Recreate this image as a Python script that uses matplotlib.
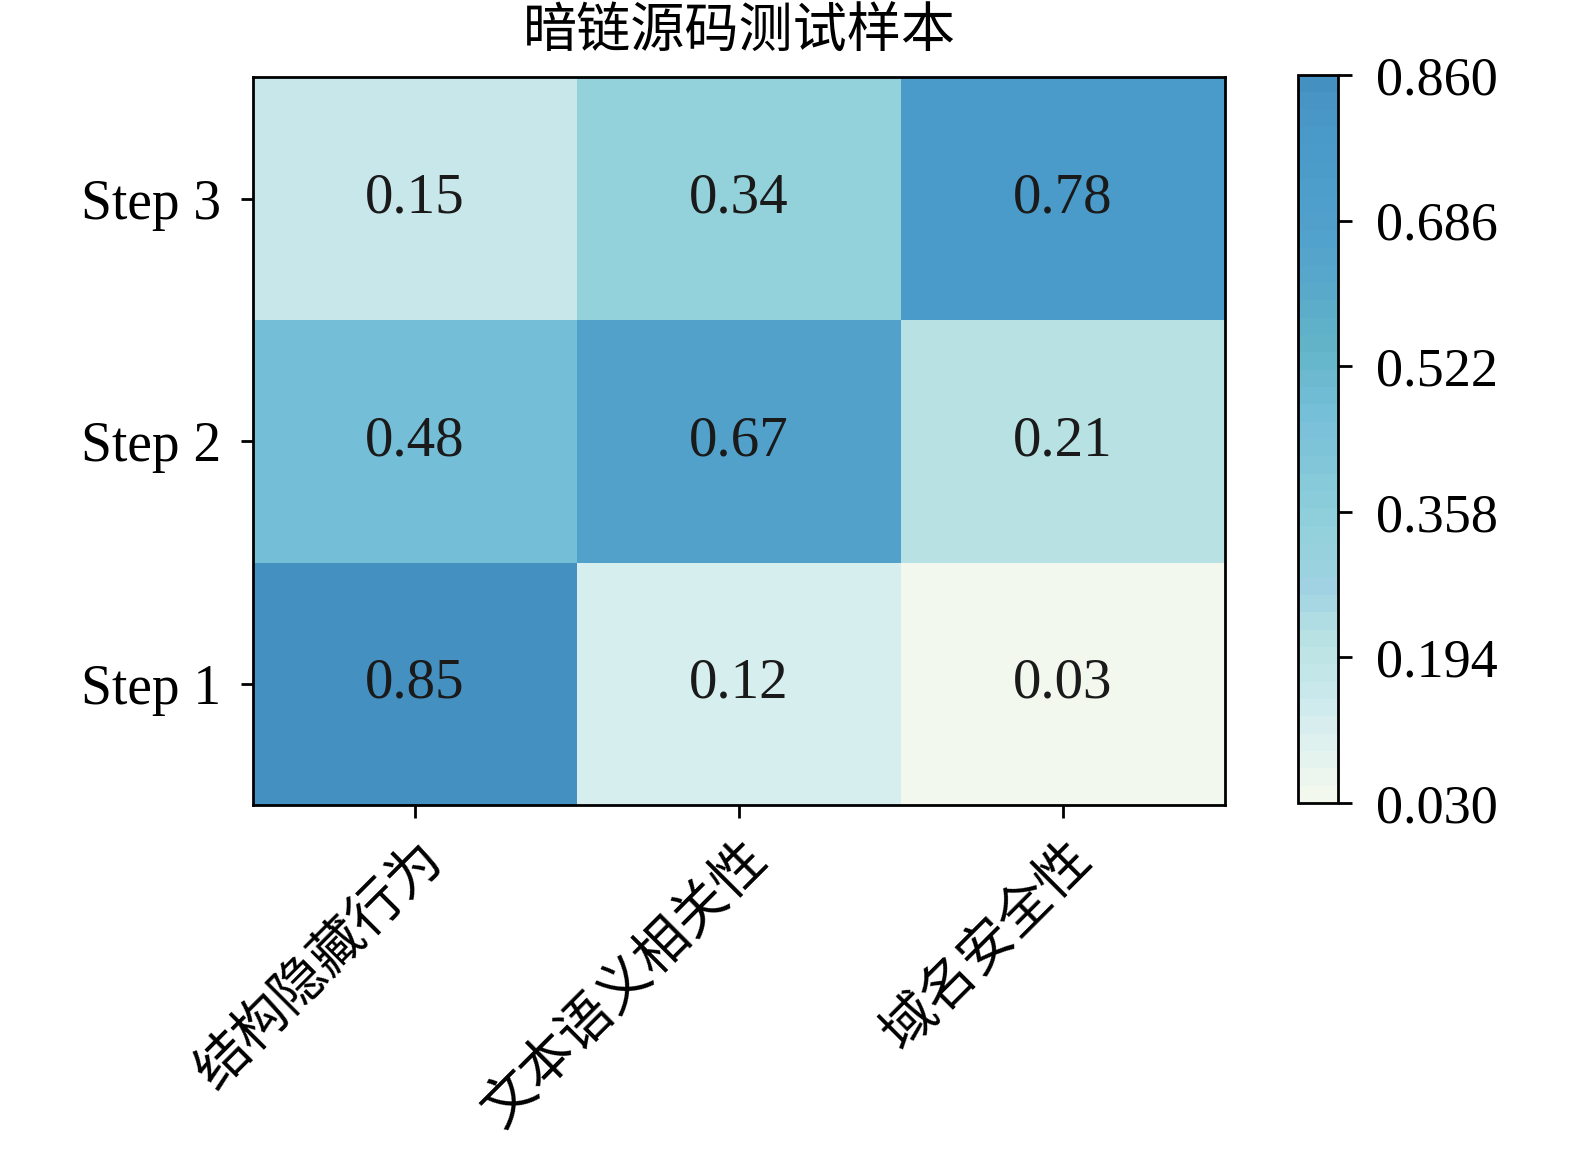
#!/usr/bin/env python3
import numpy as np
import matplotlib
matplotlib.use("Agg")
import matplotlib.pyplot as plt
from matplotlib.colors import LinearSegmentedColormap

# -------------------------------------------------------------------
# Data
# -------------------------------------------------------------------
TITLE = "暗链源码测试样本"
COLUMNS = ["结构隐藏行为", "文本语义相关性", "域名安全性"]
ROWS = ["Step 1", "Step 2", "Step 3"]

step1 = [0.85, 0.12, 0.03]
step2 = [0.48, 0.67, 0.21]
step3 = [0.15, 0.34, 0.78]

VMIN, VMAX = 0.03, 0.86
CBAR_LABELS = ["0.030", "0.194", "0.358", "0.522", "0.686", "0.860"]

# colour anchors (bottom -> top)
CMAP_COLORS = ["#F3F8EE", "#D5EDEE", "#C9E8EC", "#B9E2E4", "#A0D2E3",
               "#92D1DB", "#75BED8", "#62B3C8", "#52A2CC", "#4A9BCA",
               "#4895C6", "#4490C0"]
CMAP_POS = [0.0, 0.108, 0.145, 0.217, 0.29, 0.373, 0.542, 0.63,
            0.771, 0.904, 0.97, 1.0]

# -------------------------------------------------------------------
# Plot
# -------------------------------------------------------------------
plt.rcParams["font.family"] = ["Liberation Serif", "Noto Sans CJK SC"]
plt.rcParams["axes.linewidth"] = 2.0

cmap = LinearSegmentedColormap.from_list(
    "bands", list(zip(CMAP_POS, CMAP_COLORS)), N=42)

data = np.array([step1, step2, step3])

fig = plt.figure(figsize=(15.75, 11.53), dpi=100)
ax = fig.add_axes([0.1606, 0.3020, 0.6172, 0.6310])
cax = fig.add_axes([0.8242, 0.3035, 0.0254, 0.6315])

im = ax.imshow(data, cmap=cmap, vmin=VMIN, vmax=VMAX, origin="lower",
               aspect="auto")

for i in range(data.shape[0]):
    for j in range(data.shape[1]):
        ax.text(j, i, f"{data[i, j]:.2f}", ha="center", va="center",
                fontsize=41, color="#1a1a1a")

ax.set_xticks(range(len(COLUMNS)))
ax.set_xticklabels(COLUMNS, rotation=45, ha="right", rotation_mode="anchor",
                   fontsize=39, family=["Noto Sans CJK SC"])
ax.set_yticks(range(len(ROWS)))
ax.set_yticklabels(ROWS, fontsize=40)
ax.tick_params(axis="y", length=9, width=2.0, pad=14)
ax.tick_params(axis="x", length=9, width=2.0, pad=10)
ax.set_title(TITLE, fontsize=39, pad=21, family=["Noto Sans CJK SC"])

cb = fig.colorbar(im, cax=cax)
cb.set_ticks(np.linspace(VMIN, VMAX, len(CBAR_LABELS)))
cb.set_ticklabels(CBAR_LABELS)
cb.ax.tick_params(labelsize=39, length=10, width=2.0, pad=17)
cb.outline.set_linewidth(2.0)

fig.savefig("out.png", dpi=100)
print("Saved: out.png")
